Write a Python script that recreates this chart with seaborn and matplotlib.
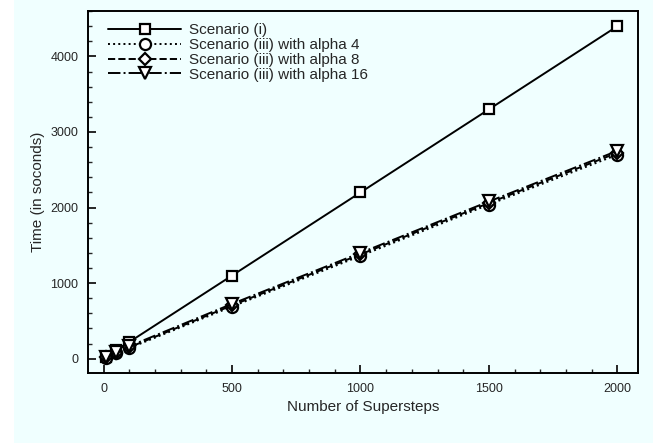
import pandas as pd
import seaborn as sns
import matplotlib.pyplot as plt
from matplotlib.patches import Rectangle
from matplotlib.ticker import MultipleLocator

supersteps = [10, 50, 100, 500, 1000, 1500, 2000]
scen_i = [22, 110, 220, 1100, 2200, 3300, 4400]
scen_iii_a4 = [15, 70, 140, 690, 1360, 2040, 2700]
scen_iii_a8 = [17, 80, 150, 705, 1380, 2060, 2725]
scen_iii_a16 = [20, 90, 165, 725, 1400, 2080, 2750]
labels = ["Scenario (i)", "Scenario (iii) with alpha 4",
          "Scenario (iii) with alpha 8", "Scenario (iii) with alpha 16"]

sns.set_style("ticks")
plt.rcParams['font.family'] = ['Liberation Sans', 'DejaVu Sans']

f = plt.figure(figsize=(6.53, 4.43), dpi=100)
f.patches.append(Rectangle((0.0214, 0), 1, 1, transform=f.transFigure,
                           facecolor="#f0ffff", edgecolor="none", zorder=-10))
ax = f.add_axes([0.135, 0.158, 0.842, 0.817])
ax.set_facecolor("#f0ffff")

series = [scen_i, scen_iii_a4, scen_iii_a8, scen_iii_a16]
markers = ["s", "o", "D", "v"]
msizes = [7.5, 8, 6.5, 8.5]
styles = ["-", ":", "--", "-."]
for vals, lab, m, ms, ls in zip(series, labels, markers, msizes, styles):
    sns.lineplot(x=supersteps, y=vals, ax=ax, color="black", linewidth=1.4,
                 linestyle=ls, marker=m, markersize=ms, markerfacecolor="white",
                 markeredgecolor="black", markeredgewidth=1.6, label=lab)

ax.set_xlim(-60, 2080)
ax.set_ylim(-190, 4600)
ax.xaxis.set_major_locator(MultipleLocator(500))
ax.xaxis.set_minor_locator(MultipleLocator(100))
ax.yaxis.set_major_locator(MultipleLocator(1000))
ax.yaxis.set_minor_locator(MultipleLocator(200))
ax.tick_params(which="major", direction="in", length=6, width=1.4, labelsize=9,
               top=False, right=False, pad=7)
ax.tick_params(which="minor", direction="in", length=3, width=1, top=False, right=False)
for s in ax.spines.values():
    s.set_linewidth(1.4)
    s.set_color("black")

ax.set_xlabel("Number of Supersteps", fontsize=11)
ax.set_ylabel("Time (in soconds)", fontsize=11)
ax.legend(frameon=False, loc="upper left", bbox_to_anchor=(0.025, 0.983),
          borderaxespad=0, handlelength=4.8, numpoints=1,
          fontsize=11, labelspacing=0.05, handletextpad=0.5)

f.savefig("out.png", dpi=100, facecolor="white")
